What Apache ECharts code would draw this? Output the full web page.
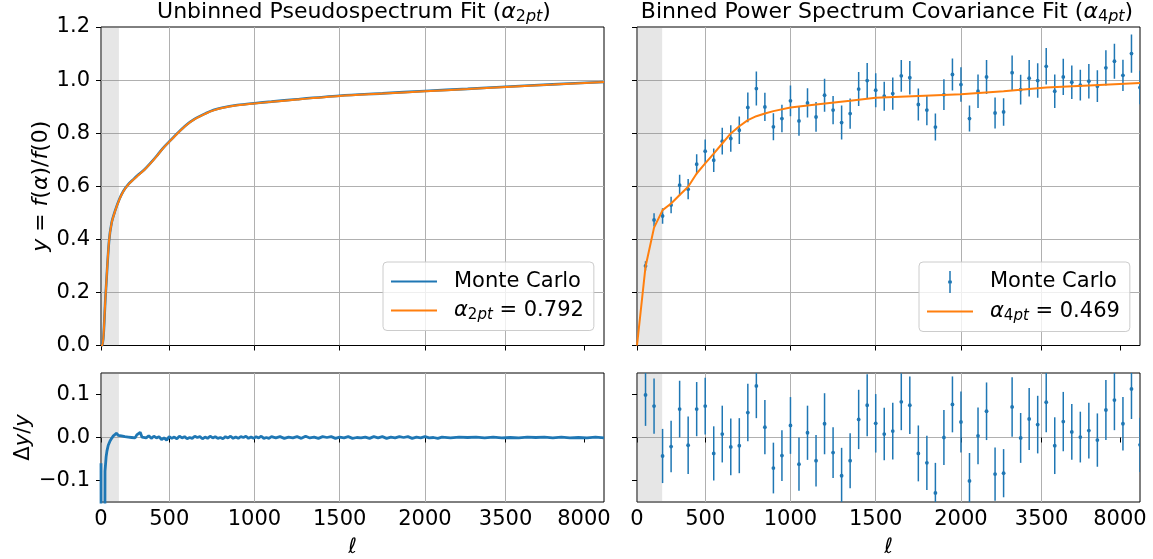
<!DOCTYPE html>
<html><head><meta charset="utf-8">
<script src="https://cdn.jsdelivr.net/npm/echarts@6/dist/echarts.min.js"></script>
<style>html,body{margin:0;padding:0;background:#fff}#c{width:1153px;height:559px}</style>
</head><body><div id="c"></div>
<script>
// ---------- axis ticks ----------
const xTickPos = [0, 8, 18, 28, 38, 47.45, 56.65];
const xTickLabels = ['0', '500', '1000', '1500', '2000', '3500', '8000'];
const yTopTicks = [0, 0.2, 0.4, 0.6, 0.8, 1.0, 1.2];
const yResTicks = [-0.1, 0, 0.1];

// ---------- unbinned (left) ----------
const unbinnedX   = [0, 0.15, 0.55, 0.94, 1.25, 1.65, 2.15, 2.63, 3.2, 3.8, 4.4, 5.1, 5.8, 6.5, 7.2, 8.0, 9.0, 10.0, 11.0, 12.3, 13.2, 14.2, 16, 18, 20, 23, 28, 33, 38, 43, 47.5, 53, 59];
const unbinnedFit = [0, 0, 0.197, 0.392, 0.462, 0.506, 0.55, 0.581, 0.606, 0.625, 0.642, 0.662, 0.686, 0.712, 0.74, 0.767, 0.800, 0.830, 0.853, 0.874, 0.886, 0.895, 0.905, 0.912, 0.918, 0.927, 0.940, 0.949, 0.958, 0.966, 0.974, 0.983, 0.993];
const unbinnedMC  = [0, 0, 0.196, 0.391, 0.463, 0.507, 0.551, 0.582, 0.607, 0.626, 0.644, 0.663, 0.687, 0.713, 0.741, 0.768, 0.801, 0.831, 0.854, 0.875, 0.887, 0.896, 0.906, 0.913, 0.919, 0.928, 0.941, 0.950, 0.959, 0.967, 0.975, 0.984, 0.993];

const unbinnedResX = [0, 0.03, 0.42, 0.47, 0.6, 0.7, 0.85, 1.06, 1.25, 1.45, 1.65, 1.84, 2.0, 2.2, 2.4, 2.6, 2.8, 3.0, 3.2, 3.4, 3.6, 3.8, 4.0, 4.2, 4.4, 4.6, 4.8, 5.0, 5.3, 5.6, 5.9, 6.2, 6.5, 6.8, 7.1, 7.4, 7.7, 8.0, 8.3, 8.6, 8.9, 9.2, 9.5, 9.8, 10.1, 10.4, 10.7, 11.0, 11.3, 11.6, 11.9, 12.2, 12.5, 12.8, 13.1, 13.4, 13.7, 14.0, 14.3, 14.6, 14.9, 15.2, 15.5, 15.8, 16.1, 16.4, 16.7, 17.0, 17.3, 17.6, 17.9, 18.2, 18.5, 18.8, 19.1, 19.4, 19.7, 20.0, 20.5, 21.0, 21.5, 22.0, 22.5, 23.0, 23.5, 24.0, 24.5, 25.0, 25.5, 26.0, 26.5, 27.0, 27.5, 28.0, 28.5, 29.0, 29.5, 30.0, 30.5, 31.0, 31.5, 32.0, 32.5, 33.0, 33.5, 34.0, 34.5, 35.0, 35.5, 36.0, 36.5, 37.0, 37.5, 38.0, 38.5, 39.0, 39.5, 40.0, 41.0, 42.0, 43.0, 44.0, 45.0, 46.0, 47.0, 48.0, 49.0, 50.0, 51.0, 52.0, 53.0, 54.0, 55.0, 56.0, 57.0, 58.0, 59.0];
const unbinnedRes  = [-0.06, -0.5, -0.5, -0.078, -0.045, -0.031, -0.018, -0.008, -0.002, 0.004, 0.007, 0.010, 0.005, 0.009, 0.004, 0.008, 0.002, 0.006, 0.001, 0.005, 0.000, 0.004, -0.001, 0.006, 0.002, 0.012, 0.001, 0.005, -0.001, 0.004, -0.002, 0.003, -0.001, 0.002, -0.005, -0.001, -0.006, 0.002, -0.002, 0.001, -0.003, 0.003, -0.001, 0.002, -0.003, 0.000, -0.002, 0.003, 0.000, 0.002, -0.003, 0.001, -0.002, 0.003, -0.001, 0.002, -0.002, 0.000, -0.003, 0.002, -0.001, 0.003, -0.002, 0.001, -0.002, 0.002, 0.000, 0.003, -0.002, 0.001, -0.002, 0.002, -0.001, 0.003, -0.002, 0.000, -0.002, 0.002, -0.001, 0.002, -0.002, 0.001, -0.001, 0.002, -0.002, 0.003, -0.001, 0.001, -0.002, 0.002, 0.000, 0.002, -0.002, 0.001, -0.001, 0.002, -0.002, 0.000, -0.001, 0.001, -0.002, 0.002, -0.001, 0.002, -0.002, 0.001, -0.001, 0.002, 0.000, 0.002, -0.002, 0.001, -0.001, 0.002, -0.001, 0.000, -0.002, 0.001, -0.001, 0.001, 0.000, 0.001, -0.001, 0.001, -0.001, 0.000, -0.001, 0.001, 0.000, 0.001, -0.001, 0.001, -0.001, 0.000, -0.001, 0.001, -0.001, 0.000];

// ---------- binned (right) ----------
const binX = [1,2,3,4,5,6,7,8,9,10,11,12,13,14,15,16,17,18,19,20,21,22,23,24,25,26,27,28,29,30,31,32,33,34,35,36,37,38,39,40,41,42,43,44,45,46,47,48,49,50,51,52,53,54,55,56,57,58,59];
const binnedY = [0.300,0.473,0.488,0.529,0.604,0.589,0.683,0.732,0.698,0.770,0.780,0.811,0.897,0.968,0.899,0.824,0.855,0.922,0.846,0.914,0.861,0.943,0.887,0.840,0.874,0.966,0.998,0.962,0.939,0.949,1.016,1.009,0.908,0.887,0.823,0.945,1.021,0.983,0.855,0.958,1.012,0.876,0.880,1.028,0.964,1.007,0.998,1.052,0.958,1.012,0.992,0.981,0.996,0.977,1.046,1.071,1.018,1.100,0.972];
const binnedErr = [0.017,0.025,0.029,0.031,0.039,0.038,0.038,0.044,0.044,0.050,0.050,0.052,0.056,0.064,0.053,0.051,0.052,0.058,0.056,0.055,0.056,0.062,0.053,0.064,0.057,0.064,0.066,0.064,0.055,0.061,0.060,0.063,0.060,0.057,0.051,0.058,0.060,0.065,0.049,0.063,0.064,0.058,0.052,0.065,0.056,0.069,0.065,0.069,0.063,0.068,0.063,0.058,0.065,0.060,0.066,0.066,0.059,0.072,0.063];
const binnedFitX = [0,1,2,3,4,5,6,7,8,9,10,11,12,13,14,15,16,18,21,25,28,33,38,43,48,53,59];
const binnedFit  = [0,0.297,0.444,0.510,0.535,0.567,0.598,0.648,0.686,0.723,0.761,0.799,0.826,0.849,0.864,0.874,0.883,0.897,0.908,0.922,0.933,0.940,0.947,0.958,0.972,0.980,0.989];
const binnedRes = [0.099,0.073,-0.043,-0.021,0.066,-0.018,0.066,0.073,-0.037,0.008,-0.022,-0.019,0.058,0.120,0.024,-0.071,-0.042,0.028,-0.062,0.011,-0.054,0.032,-0.035,-0.089,-0.054,0.042,0.075,0.033,0.008,0.015,0.083,0.075,-0.037,-0.059,-0.129,0.000,0.077,0.036,-0.101,0.004,0.061,-0.085,-0.083,0.071,-0.001,0.043,0.030,0.082,-0.019,0.037,0.013,0.001,0.016,-0.006,0.064,0.087,0.032,0.113,-0.017];
const binnedResErr = [0.072,0.064,0.063,0.060,0.066,0.067,0.063,0.066,0.063,0.066,0.066,0.064,0.067,0.075,0.063,0.059,0.059,0.066,0.062,0.063,0.060,0.071,0.059,0.065,0.064,0.069,0.072,0.068,0.061,0.066,0.066,0.067,0.065,0.063,0.070,0.064,0.065,0.071,0.065,0.066,0.067,0.062,0.056,0.069,0.058,0.072,0.067,0.070,0.066,0.069,0.065,0.059,0.065,0.062,0.070,0.070,0.062,0.070,0.063];

// excluded (shaded) low-ell ranges, in axis units
const shadeUnbinned = [0, 2.1];
const shadeBinned = [0, 2.95];

// legend names
const nameMC = 'Monte Carlo';
const nameMCb = 'Monte Carlo (binned)';
const nameFit2 = 'α2pt = 0.792';
const nameFit4 = 'α4pt = 0.469';

// ---------- styling ----------
const FONT = 'DejaVu Sans';
const FS = 21;
const FT = 22;
const BLUE = '#1f77b4', ORANGE = '#ff7f0e';
const GRIDC = '#b0b0b0';
const SHADE = 'rgba(128,128,128,0.2)';

const zip = (xs, ys) => xs.map((x, i) => [x, ys[i]]);
const zip3 = (xs, ys, es) => xs.map((x, i) => [x, ys[i], es[i]]);

function richSet(fs) {
  const sub = Math.round(fs * 0.71);
  const pad = Math.round(fs * 0.43);
  return {
    t: {fontFamily: FONT, fontSize: fs, fontWeight: 'normal', color: '#000'},
    n: {fontFamily: FONT, fontSize: fs, fontWeight: 'normal', color: '#000'},
    a: {fontFamily: FONT, fontSize: fs, fontWeight: 'normal', fontStyle: 'italic', color: '#000'},
    s: {fontFamily: FONT, fontSize: sub, fontWeight: 'normal', color: '#000', padding: [pad, 0, 0, 0]},
    sp: {fontFamily: FONT, fontSize: sub, fontWeight: 'normal', fontStyle: 'italic', color: '#000', padding: [pad, 0, 0, 0]},
    i: {fontFamily: FONT, fontSize: fs, fontWeight: 'normal', fontStyle: 'italic', color: '#000'}
  };
}
const richSub = richSet(FS);
const richTitle = richSet(FT);

const grids = [
  {left: 101, top: 27, width: 503, height: 318.5},
  {left: 637, top: 27, width: 503, height: 318.5},
  {left: 101, top: 373, width: 503, height: 129},
  {left: 637, top: 373, width: 503, height: 129}
].map(g => Object.assign(g, {show: true, borderColor: '#000', borderWidth: 1, backgroundColor: 'transparent', containLabel: false}));

function xLabelFmt(v) {
  for (let i = 0; i < xTickPos.length; i++) if (Math.abs(xTickPos[i] - v) < 1e-6) return xTickLabels[i];
  return '';
}
function yFmt(v) { return (v < 0 ? '\u2212' : '') + Math.abs(v).toFixed(1); }

function mkX(gi, showLabels) {
  return {
    type: 'value', gridIndex: gi, min: 0, max: 59,
    axisLine: {show: false},
    axisTick: {show: true, customValues: xTickPos, length: 5, lineStyle: {color: '#000', width: 1}},
    axisLabel: {show: showLabels, customValues: xTickPos, formatter: xLabelFmt, margin: 7,
      fontFamily: FONT, fontSize: FS, color: '#000'},
    splitLine: {show: true, showMinLine: false, showMaxLine: false, lineStyle: {color: GRIDC, width: 1}},
    name: showLabels ? 'ℓ' : '', nameLocation: 'middle', nameGap: 35,
    nameTextStyle: {fontFamily: FONT, fontSize: FS, fontStyle: 'italic', color: '#000'}
  };
}
function mkY(gi, ticks, min, max, showLabels, name, nameGap, nameRich) {
  return {
    type: 'value', gridIndex: gi, min: min, max: max,
    axisLine: {show: false},
    axisTick: {show: true, customValues: ticks, length: 5, lineStyle: {color: '#000', width: 1}},
    axisLabel: {show: showLabels, customValues: ticks, formatter: yFmt, margin: 11,
      fontFamily: FONT, fontSize: FS, color: '#000'},
    splitLine: {show: true, showMinLine: false, showMaxLine: false, lineStyle: {color: GRIDC, width: 1}},
    name: name || '', nameLocation: 'middle', nameGap: nameGap || 0, nameRotate: 90,
    nameTextStyle: {fontFamily: FONT, fontSize: (nameRich || richSub).t.fontSize, color: '#000', rich: nameRich || richSub}
  };
}

function errRender(params, api) {
  const x = api.value(0), y = api.value(1), e = api.value(2);
  const top = api.coord([x, y + e]);
  const bot = api.coord([x, y - e]);
  const mid = api.coord([x, y]);
  return {
    type: 'group',
    children: [
      {type: 'line', shape: {x1: top[0], y1: top[1], x2: bot[0], y2: bot[1]}, style: {stroke: BLUE, lineWidth: 1.5}},
      {type: 'circle', shape: {cx: mid[0], cy: mid[1], r: 1.9}, style: {fill: BLUE}}
    ]
  };
}

const linePath = 'path://M0,10 h46 v2 h-46 z';
const errPath = 'path://M22.25,0 h1.5 v22 h-1.5 z M23,9 a2,2 0 1,1 0,4 a2,2 0 1,1 0,-4 z';

const legendText = {};
legendText[nameMC] = '{n|Monte Carlo}';
legendText[nameMCb] = '{n|Monte Carlo}';
legendText[nameFit2] = '{a|α}{s|2}{sp|pt}{n| = 0.792}';
legendText[nameFit4] = '{a|α}{s|4}{sp|pt}{n| = 0.469}';

function mkLegend(left, data) {
  return {
    orient: 'vertical', left: left, top: 262, data: data,
    itemWidth: 46, itemHeight: 22, itemGap: 8,
    padding: [9, 10, 8, 8],
    backgroundColor: 'rgba(255,255,255,0.8)', borderColor: '#cccccc', borderWidth: 1, borderRadius: 4,
    selectedMode: false,
    formatter: n => legendText[n],
    textStyle: {fontFamily: FONT, fontSize: FS, color: '#000', padding: [0, 0, 0, 12], rich: richSub}
  };
}

const option = {
  animation: false,
  backgroundColor: '#fff',
  title: [
    {text: '{t|Unbinned Pseudospectrum Fit (}{a|α}{s|2}{sp|pt}{t|)}', left: 354, top: 0, padding: 0, textAlign: 'center',
      textStyle: {fontWeight: 'normal', fontSize: FT, fontFamily: FONT, rich: richTitle}},
    {text: '{t|Binned Power Spectrum Covariance Fit (}{a|α}{s|4}{sp|pt}{t|)}', left: 887, top: 0, padding: 0, textAlign: 'center',
      textStyle: {fontWeight: 'normal', fontSize: FT, fontFamily: FONT, rich: richTitle}}
  ],
  grid: grids,
  xAxis: [mkX(0, false), mkX(1, false), mkX(2, true), mkX(3, true)],
  yAxis: [
    mkY(0, yTopTicks, 0, 1.2, true, '{i|y} = {i|f}({i|α})/{i|f}(0)', 47, richTitle),
    mkY(1, yTopTicks, 0, 1.2, false),
    mkY(2, yResTicks, -0.15, 0.15, true, 'Δ{i|y}/{i|y}', 67),
    mkY(3, yResTicks, -0.15, 0.15, false)
  ],
  legend: [
    mkLegend(383, [{name: nameMC, icon: linePath}, {name: nameFit2, icon: linePath}]),
    mkLegend(919, [{name: nameMCb, icon: errPath}, {name: nameFit4, icon: linePath}])
  ],
  series: [
    {name: nameMC, type: 'line', xAxisIndex: 0, yAxisIndex: 0, data: zip(unbinnedX, unbinnedMC),
      symbol: 'none', smooth: 0.3, lineStyle: {color: BLUE, width: 2.6}, itemStyle: {color: BLUE}, z: 2,
      markArea: {silent: true, itemStyle: {color: SHADE}, data: [[{xAxis: shadeUnbinned[0]}, {xAxis: shadeUnbinned[1]}]]}},
    {name: nameFit2, type: 'line', xAxisIndex: 0, yAxisIndex: 0, data: zip(unbinnedX, unbinnedFit),
      symbol: 'none', smooth: 0.3, lineStyle: {color: ORANGE, width: 2}, itemStyle: {color: ORANGE}, z: 3},
    {name: nameMCb, type: 'custom', xAxisIndex: 1, yAxisIndex: 1, data: zip3(binX, binnedY, binnedErr),
      renderItem: errRender, clip: true, encode: {x: 0, y: 1}, itemStyle: {color: BLUE}, z: 2},
    {name: nameFit4, type: 'line', xAxisIndex: 1, yAxisIndex: 1, data: zip(binnedFitX, binnedFit),
      symbol: 'none', lineStyle: {color: ORANGE, width: 2}, itemStyle: {color: ORANGE}, z: 3,
      markArea: {silent: true, itemStyle: {color: SHADE}, data: [[{xAxis: shadeBinned[0]}, {xAxis: shadeBinned[1]}]]}},
    {name: 'resUnbinned', type: 'line', xAxisIndex: 2, yAxisIndex: 2, data: zip(unbinnedResX, unbinnedRes),
      symbol: 'none', lineStyle: {color: BLUE, width: 2.8}, itemStyle: {color: BLUE}, z: 2,
      markArea: {silent: true, itemStyle: {color: SHADE}, data: [[{xAxis: shadeUnbinned[0]}, {xAxis: shadeUnbinned[1]}]]}},
    {name: 'resBinned', type: 'custom', xAxisIndex: 3, yAxisIndex: 3, data: zip3(binX, binnedRes, binnedResErr),
      renderItem: errRender, clip: true, encode: {x: 0, y: 1}, itemStyle: {color: BLUE}, z: 2,
      markArea: {silent: true, itemStyle: {color: SHADE}, data: [[{xAxis: shadeBinned[0]}, {xAxis: shadeBinned[1]}]]}}
  ]
};

const chart = echarts.init(document.getElementById('c'), null, {renderer: 'canvas'});
chart.setOption(option);
</script>
</body></html>
